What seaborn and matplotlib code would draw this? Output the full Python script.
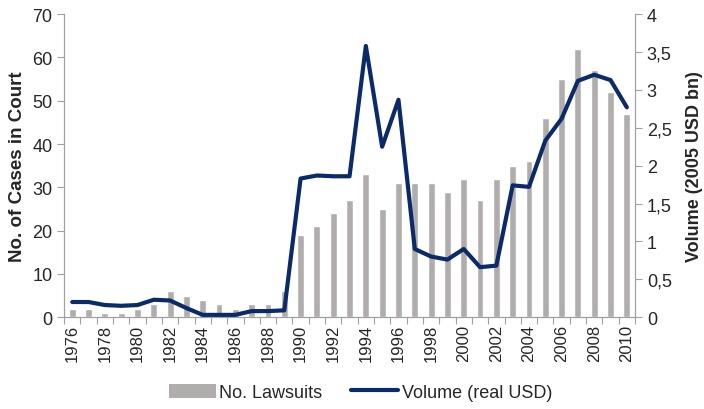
import matplotlib
matplotlib.use("Agg")
import matplotlib.pyplot as plt
import seaborn as sns
import pandas as pd
import numpy as np
from matplotlib.lines import Line2D
from matplotlib.patches import Patch

years = list(range(1976, 2011))
lawsuits = [2, 2, 1, 1, 2, 3, 6, 5, 4, 3, 2, 3, 3, 6, 19, 21, 24, 27, 33, 25,
            31, 31, 31, 29, 32, 27, 32, 35, 36, 46, 55, 62, 57, 52, 47]
volume = [0.20, 0.20, 0.16, 0.15, 0.16, 0.23, 0.22, 0.12, 0.03, 0.03, 0.03, 0.08,
          0.08, 0.09, 1.83, 1.87, 1.86, 1.86, 3.58, 2.25, 2.87, 0.90, 0.80, 0.76,
          0.90, 0.66, 0.68, 1.74, 1.72, 2.33, 2.62, 3.12, 3.20, 3.13, 2.77]

sns.set_style("white")
plt.rcParams['font.family'] = ['Liberation Sans', 'DejaVu Sans']

bar_color = "#B1ADAD"
line_color = "#0B2A6A"
spine_color = "#A0A0A0"

df = pd.DataFrame({"year": [str(y) for y in years], "lawsuits": lawsuits,
                   "idx": np.arange(len(years)), "volume": volume})

fig = plt.figure(figsize=(7.04, 4.10), dpi=100)
ax = fig.add_axes([0.091, 0.224, 0.811, 0.739])
sns.barplot(data=df, x="year", y="lawsuits", color=bar_color, width=0.42,
            saturation=1, ax=ax)
ax.set_ylim(0, 70)
ax.set_yticks(range(0, 71, 10))
ax.set_xlim(-0.5, len(years) - 0.5)
ax.set_xticks(range(len(years)))
ax.set_xticklabels([str(y) if (y % 2 == 0) else "" for y in years], rotation=90,
                   fontsize=12)
ax.set_xticks(np.arange(-0.5, len(years)), minor=True)
ax.tick_params(axis="x", which="major", length=0, pad=5)
ax.tick_params(axis="x", which="minor", length=5, color=spine_color, width=0.8,
               direction="out", bottom=True)
ax.tick_params(axis="y", length=5, color=spine_color, width=0.8, direction="out",
               left=True, labelsize=13)
ax.set_xlabel("")
ax.set_ylabel("No. of Cases in Court", fontsize=13.5, fontweight="bold", labelpad=4)
ax.spines["top"].set_visible(False)
for s in ["left", "right", "bottom"]:
    ax.spines[s].set_color(spine_color)
    ax.spines[s].set_linewidth(0.8)

ax2 = ax.twinx()
sns.lineplot(data=df, x="idx", y="volume", color=line_color, linewidth=3, ax=ax2,
             legend=False)
ax2.set_ylim(0, 4)
ax2.set_yticks(np.arange(0, 4.01, 0.5))
ax2.set_yticklabels(["0", "0,5", "1", "1,5", "2", "2,5", "3", "3,5", "4"])
ax2.tick_params(axis="y", length=5, color=spine_color, width=0.8, direction="out",
                right=True, labelsize=13)
ax2.set_ylabel("Volume (2005 USD bn)", fontsize=13, fontweight="bold", labelpad=10)
ax2.set_xlabel("")
ax2.spines["top"].set_visible(False)
for s in ["left", "right", "bottom"]:
    ax2.spines[s].set_color(spine_color)
    ax2.spines[s].set_linewidth(0.8)
ax2.set_xlim(-0.5, len(years) - 0.5)

handles = [Patch(facecolor=bar_color, edgecolor="none", label="No. Lawsuits"),
           Line2D([0], [0], color=line_color, linewidth=3, label="Volume (real USD)")]
fig.legend(handles=handles, loc="lower center", bbox_to_anchor=(0.512, -0.02), ncol=2,
           frameon=False, fontsize=13, handlelength=2.6, handleheight=0.8,
           handletextpad=0.2, columnspacing=1.6)

fig.savefig("out.png", dpi=100)
